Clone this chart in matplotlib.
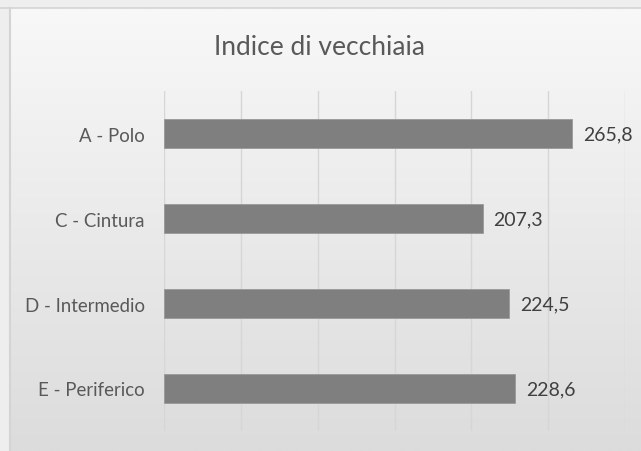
import numpy as np
import matplotlib.pyplot as plt
from matplotlib.colors import LinearSegmentedColormap

categories = ['A - Polo', 'C - Cintura', 'D - Intermedio', 'E - Periferico']
values = [265.8, 207.3, 224.5, 228.6]
value_labels = ['265,8', '207,3', '224,5', '228,6']
title = 'Indice di vecchiaia'

W, H = 641, 452
fig = plt.figure(figsize=(W / 100, H / 100), dpi=100)

# background: frame strip + vertical gradient inside chart area
bg = fig.add_axes([0, 0, 1, 1])
bg.axis('off')
bg.add_patch(plt.Rectangle((0, 0), W, H, color='#eeeeee', lw=0, zorder=0))
cmap = LinearSegmentedColormap.from_list('bg', ['#f8f8f8', '#dcdcdc'])
grad = np.linspace(0, 1, 256).reshape(-1, 1)
bg.imshow(grad, cmap=cmap, extent=(10, W, H, 9), aspect='auto', zorder=1)
bg.plot([0, W], [8.5, 8.5], color='#d4d4d4', lw=1.2, zorder=2)
bg.plot([9.5, 9.5], [8.5, H], color='#d4d4d4', lw=1.5, zorder=2)
bg.set_xlim(0, W)
bg.set_ylim(H, 0)

left, right, top, bottom = 164, 625, 92, 432
ax = fig.add_axes([left / W, 1 - bottom / H, (right - left) / W, (bottom - top) / H])
ax.patch.set_alpha(0)

y = np.arange(len(categories))
ax.barh(y, values, height=0.35, color='#7f7f7f', edgecolor='#999999', lw=0.6, zorder=3)
ax.set_ylim(len(categories) - 0.5, -0.5)
ax.set_xlim(0, 300)
ax.set_xticks(np.arange(0, 301, 50))
ax.grid(axis='x', color='#d6d6d6', lw=1.0, zorder=0)
ax.tick_params(length=0, labelbottom=False)
for s in ax.spines.values():
    s.set_visible(False)

font = 'Lato'
ax.set_yticks(y)
ax.set_yticklabels(categories, fontsize=13.4, color='#595959', family=font)
ax.tick_params(axis='y', pad=14)

for yi, v, lab in zip(y, values, value_labels):
    ax.text(v + 7, yi, lab, va='center', ha='left', fontsize=14,
            color='#404040', family=font)

fig.text(320 / W, 1 - 48 / H, title, ha='center', va='center', fontsize=19,
         color='#595959', family=font)

fig.savefig('out.png', dpi=100)
